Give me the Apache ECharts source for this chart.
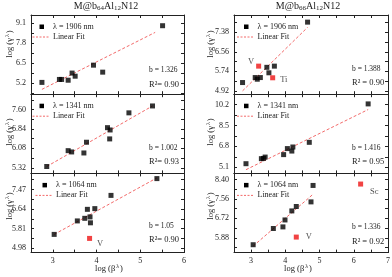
<!DOCTYPE html>
<html><head><meta charset="utf-8">
<script src="https://cdn.jsdelivr.net/npm/echarts@6/dist/echarts.min.js"></script>
<style>html,body{margin:0;padding:0;background:#fff}#c{width:392px;height:277px}</style>
</head><body><div id="c"></div><script>
// ---------- data ----------
const titles = ['M@b64Al12N12', 'M@b66Al12N12'];
const xTickLabelsLeft = ['3', '4', '5', '6'];
const xTickLabelsRight = ['3', '4', '5', '6', '7'];
const xRangeLeft = [2.5, 6];
const xRangeRight = [2.5, 7];

// b64, 1906 nm
const b64_1906_legend = 'λ = 1906 nm';
const b64_1906_x = [2.75, 3.15, 3.20, 3.35, 3.44, 3.51, 3.93, 4.14, 5.51];
const b64_1906_y = [5.26, 5.45, 5.45, 5.40, 5.86, 5.66, 6.37, 5.92, 8.91];
const b64_1906_fitX = [2.75, 5.34];
const b64_1906_fitY = [4.81, 8.48];
const b64_1906_yLabels = ['5.2', '6.5', '7.8', '9.1'];
const b64_1906_yRange = [4.5, 9.6];
const b64_1906_b = 'b = 1.326';
const b64_1906_r = 'R²= 0.90';

// b64, 1341 nm
const b64_1341_legend = 'λ = 1341 nm';
const b64_1341_x = [2.86, 3.35, 3.43, 3.71, 3.77, 4.25, 4.31, 4.30, 4.74, 5.28];
const b64_1341_y = [5.37, 5.99, 5.94, 5.90, 6.32, 6.89, 6.80, 6.45, 7.47, 7.74];
const b64_1341_fitX = [2.86, 5.28];
const b64_1341_fitY = [5.37, 7.74];
const b64_1341_yLabels = ['5.32', '6.08', '6.84', '7.60'];
const b64_1341_yRange = [5.1, 8.2];
const b64_1341_b = 'b = 1.002';
const b64_1341_r = 'R²= 0.93';

// b64, 1064 nm
const b64_1064_legend = 'λ = 1064 nm';
const b64_1064_x = [3.03, 3.56, 3.73, 3.79, 3.85, 3.86, 3.96, 4.33, 5.38];
const b64_1064_y = [5.57, 6.14, 6.25, 6.63, 6.31, 6.06, 6.66, 7.22, 7.93];
const b64_1064_redX = [3.84];
const b64_1064_redY = [5.40];
const b64_1064_redNames = ['V'];
const b64_1064_fitX = [3.03, 5.38];
const b64_1064_fitY = [5.57, 7.96];
const b64_1064_yLabels = ['4.98', '5.81', '6.64', '7.47'];
const b64_1064_yRange = [4.8, 8.15];
const b64_1064_b = 'b = 1.05';
const b64_1064_r = 'R²= 0.90';

// b66, 1906 nm
const b66_1906_legend = 'λ = 1906 nm';
const b66_1906_x = [2.75, 3.12, 3.18, 3.27, 3.46, 3.52, 3.68, 4.65];
const b66_1906_y = [5.27, 5.48, 5.41, 5.48, 5.91, 5.68, 5.96, 7.81];
const b66_1906_redX = [3.22, 3.63];
const b66_1906_redY = [5.96, 5.47];
const b66_1906_redNames = ['V', 'Ti'];
const b66_1906_fitX = [2.75, 4.65];
const b66_1906_fitY = [4.92, 7.59];
const b66_1906_yLabels = ['4.92', '5.74', '6.56', '7.38'];
const b66_1906_yRange = [4.78, 8.11];
const b66_1906_b = 'b = 1.388';
const b66_1906_r = 'R² = 0.90';

// b66, 1341 nm
const b66_1341_legend = 'λ = 1341 nm';
const b66_1341_x = [2.85, 3.30, 3.36, 3.41, 3.95, 4.06, 4.19, 4.22, 4.70, 6.42];
const b66_1341_y = [5.39, 5.80, 5.82, 5.93, 6.13, 6.62, 6.42, 6.75, 7.13, 10.26];
const b66_1341_fitX = [2.85, 6.42];
const b66_1341_fitY = [4.90, 9.80];
const b66_1341_yLabels = ['5.1', '6.8', '8.5', '10.2'];
const b66_1341_yRange = [4.6, 11.05];
const b66_1341_b = 'b = 1.416';
const b66_1341_r = 'R² = 0.95';

// b66, 1064 nm
const b66_1064_legend = 'λ = 1064 nm';
const b66_1064_x = [3.06, 3.65, 3.93, 3.99, 4.19, 4.32, 4.75, 4.81];
const b66_1064_y = [5.58, 6.28, 6.35, 6.65, 7.04, 7.23, 7.43, 8.14];
const b66_1064_redX = [4.32, 6.20];
const b66_1064_redY = [5.91, 8.20];
const b66_1064_redNames = ['V', 'Sc'];
const b66_1064_fitX = [3.06, 4.81];
const b66_1064_fitY = [5.52, 7.76];
const b66_1064_yLabels = ['5.88', '6.72', '7.56', '8.40'];
const b66_1064_yRange = [5.24, 8.66];
const b66_1064_b = 'b = 1.336';
const b66_1064_r = 'R² = 0.92';

// ---------- layout / style ----------
const FONT = "'Liberation Serif','Times New Roman',serif";
const INK = '#222';
const RED = '#ee1414';
const FIT = '#f36a6a';
const COLS = [
  {left: 31, width: 153, range: xRangeLeft, labels: xTickLabelsLeft},
  {left: 234, width: 154, range: xRangeRight, labels: xTickLabelsRight}
];
const ROW_TOP = 15, ROW_H = 79.2;
const RED_LABEL_STYLE = {
  '0-2-V': {position: 'right', distance: 5, offset: [0, 5]},
  '1-0-V': {position: 'left', distance: 2, offset: [0, -4]},
  '1-0-Ti': {position: 'right', distance: 5, offset: [0, 2]},
  '1-2-V': {position: 'right', distance: 7, offset: [0, 0]},
  '1-2-Sc': {position: 'right', distance: 7, offset: [0, 8]}
};

const panels = [
  {col:0,row:0,legend:b64_1906_legend,x:b64_1906_x,y:b64_1906_y,fitX:b64_1906_fitX,fitY:b64_1906_fitY,yLabels:b64_1906_yLabels,yRange:b64_1906_yRange,b:b64_1906_b,r:b64_1906_r},
  {col:0,row:1,legend:b64_1341_legend,x:b64_1341_x,y:b64_1341_y,fitX:b64_1341_fitX,fitY:b64_1341_fitY,yLabels:b64_1341_yLabels,yRange:b64_1341_yRange,b:b64_1341_b,r:b64_1341_r},
  {col:0,row:2,legend:b64_1064_legend,x:b64_1064_x,y:b64_1064_y,fitX:b64_1064_fitX,fitY:b64_1064_fitY,yLabels:b64_1064_yLabels,yRange:b64_1064_yRange,b:b64_1064_b,r:b64_1064_r,redX:b64_1064_redX,redY:b64_1064_redY,redNames:b64_1064_redNames},
  {col:1,row:0,legend:b66_1906_legend,x:b66_1906_x,y:b66_1906_y,fitX:b66_1906_fitX,fitY:b66_1906_fitY,yLabels:b66_1906_yLabels,yRange:b66_1906_yRange,b:b66_1906_b,r:b66_1906_r,redX:b66_1906_redX,redY:b66_1906_redY,redNames:b66_1906_redNames},
  {col:1,row:1,legend:b66_1341_legend,x:b66_1341_x,y:b66_1341_y,fitX:b66_1341_fitX,fitY:b66_1341_fitY,yLabels:b66_1341_yLabels,yRange:b66_1341_yRange,b:b66_1341_b,r:b66_1341_r},
  {col:1,row:2,legend:b66_1064_legend,x:b66_1064_x,y:b66_1064_y,fitX:b66_1064_fitX,fitY:b66_1064_fitY,yLabels:b66_1064_yLabels,yRange:b66_1064_yRange,b:b66_1064_b,r:b66_1064_r,redX:b66_1064_redX,redY:b66_1064_redY,redNames:b66_1064_redNames}
];

function zip(a, b) { return a.map((v, i) => [v, b[i]]); }
function withHalves(vals, lo, hi) {
  const out = vals.slice();
  const step = vals[1] - vals[0];
  const cands = [vals[0] - step / 2].concat(vals.map(v => v + step / 2));
  cands.forEach(v => { if (v > lo + 1e-9 && v < hi - 1e-9) out.push(v); });
  return out.filter(v => v > lo + 1e-9 && v < hi - 1e-9);
}
function fmtFrom(labels) {
  return v => { const s = labels.find(l => Math.abs(parseFloat(l) - v) < 1e-6); return s === undefined ? '' : s; };
}

const grids = [], xAxes = [], yAxes = [], series = [], graphics = [];
const axisLine = {show: true, onZero: false, lineStyle: {color: INK, width: 1}};
const labelStyle = {fontSize: 8, color: INK, fontFamily: FONT};

panels.forEach((p, i) => {
  const c = COLS[p.col];
  const top = ROW_TOP + p.row * ROW_H;
  grids.push({left: c.left, top: top, width: c.width, height: ROW_H, containLabel: false, outerBoundsMode: 'none'});
  const xVals = c.labels.map(parseFloat);
  const xTicks = withHalves(xVals, c.range[0], c.range[1]);
  const yVals = p.yLabels.map(parseFloat);
  const yTicks = withHalves(yVals, p.yRange[0], p.yRange[1]);
  xAxes[i] = {type: 'value', gridIndex: i, min: c.range[0], max: c.range[1], position: 'bottom',
    axisLine, splitLine: {show: false},
    axisTick: {show: true, inside: true, length: 3, customValues: xTicks, lineStyle: {color: INK}},
    axisLabel: Object.assign({show: p.row === 2, customValues: xVals, formatter: fmtFrom(c.labels), margin: 4}, labelStyle)};
  xAxes[i + 6] = {type: 'value', gridIndex: i, min: c.range[0], max: c.range[1], position: 'top',
    axisLine, splitLine: {show: false},
    axisTick: {show: true, inside: true, length: 3, customValues: xTicks, lineStyle: {color: INK}},
    axisLabel: {show: false}};
  yAxes[i] = {type: 'value', gridIndex: i, min: p.yRange[0], max: p.yRange[1], position: 'left',
    axisLine, splitLine: {show: false},
    axisTick: {show: true, inside: true, length: 3, customValues: yTicks, lineStyle: {color: INK}},
    axisLabel: Object.assign({show: true, customValues: yVals, formatter: fmtFrom(p.yLabels), margin: 5}, labelStyle)};
  yAxes[i + 6] = {type: 'value', gridIndex: i, min: p.yRange[0], max: p.yRange[1], position: 'right',
    axisLine, splitLine: {show: false},
    axisTick: {show: true, inside: true, length: 3, customValues: yTicks, lineStyle: {color: INK}},
    axisLabel: {show: false}};

  series.push({type: 'line', name: 'Linear Fit', xAxisIndex: i, yAxisIndex: i, data: zip(p.fitX, p.fitY),
    symbol: 'none', silent: true, lineStyle: {color: FIT, width: 1, type: [3, 2]}, z: 2});
  series.push({type: 'scatter', name: p.legend, xAxisIndex: i, yAxisIndex: i, data: zip(p.x, p.y),
    symbol: 'rect', symbolSize: 5, itemStyle: {color: '#000'}, z: 3});
  if (p.redX) {
    series.push({type: 'scatter', name: 'outlier', xAxisIndex: i, yAxisIndex: i,
      data: p.redX.map((v, k) => {
        const st = RED_LABEL_STYLE[p.col + '-' + p.row + '-' + p.redNames[k]] || {position: 'right'};
        return {value: [v, p.redY[k]], name: p.redNames[k],
          label: Object.assign({show: true, formatter: '{b}', fontSize: 8.5, color: INK, fontFamily: FONT}, st)};
      }),
      symbol: 'rect', symbolSize: 5, itemStyle: {color: RED}, z: 4});
  }

  const lx = c.left + (p.col === 1 ? 1.5 : (p.row === 2 ? 3 : 0));
  graphics.push({type: 'rect', shape: {x: lx + 8.5, y: top + 9.5, width: 4.5, height: 4.5}, style: {fill: '#000'}, silent: true});
  graphics.push({type: 'text', x: lx + 22, y: top + 12, style: {text: p.legend, fontSize: 8, fontFamily: FONT, fill: INK, align: 'left', verticalAlign: 'middle'}, silent: true});
  graphics.push({type: 'line', shape: {x1: lx + 1.5, y1: top + 22, x2: lx + 19, y2: top + 22}, style: {stroke: FIT, lineWidth: 1, lineDash: [2, 1.5]}, silent: true});
  graphics.push({type: 'text', x: lx + 22, y: top + 22, style: {text: 'Linear Fit', fontSize: 8, fontFamily: FONT, fill: INK, align: 'left', verticalAlign: 'middle'}, silent: true});
  const dy = p.col === 0 ? [1.5, 0, -1.5][p.row] : 0;
  graphics.push({type: 'text', x: c.left + 118, y: top + 54 + dy, style: {text: p.b, fontSize: 7.5, fontFamily: FONT, fill: INK, align: 'left', verticalAlign: 'middle'}, silent: true});
  graphics.push({type: 'text', x: c.left + 118, y: top + 68 + dy, style: {text: p.r, fontSize: 8.5, fontFamily: FONT, fill: INK, align: 'left', verticalAlign: 'middle'}, silent: true});
});

// axis names with superscript λ (raised via bottom padding)
const nameRich = {
  a: {fontSize: 8.5, fontFamily: FONT, fill: INK, color: INK},
  s: {fontSize: 6, fontFamily: FONT, fill: INK, color: INK, padding: [0, 1, 6, 1]}
};
const yNameCenters = [44, 132, 206];
[10, 211].forEach(x => {
  yNameCenters.forEach(y => {
    graphics.push({type: 'text', x: x, y: y, rotation: Math.PI / 2,
      style: {text: '{a|log (γ}{s|λ}{a|)}', rich: nameRich, align: 'center', verticalAlign: 'middle', fill: INK}, silent: true});
  });
});
[[109, 269], [298, 269]].forEach(([x, y]) => {
  graphics.push({type: 'text', x: x, y: y,
    style: {text: '{a|log (β}{s|λ}{a|)}', rich: nameRich, align: 'center', verticalAlign: 'middle', fill: INK}, silent: true});
});
// titles with subscripts (lowered via top padding)
const titleRich = {
  n: {fontSize: 10, fontFamily: FONT, fill: INK, color: INK},
  s: {fontSize: 7, fontFamily: FONT, fill: INK, color: INK, padding: [5, 0, 0, 0]}
};
function titleText(t) {
  const m = t.match(/^(M@b)(\d+)(Al)(\d+)(N12)$/);
  return '{n|' + m[1] + '}{s|' + m[2] + '}{n|' + m[3] + '}{s|' + m[4] + '}{n|' + m[5] + '}';
}
[[106, 6], [308, 6]].forEach(([x, y], k) => {
  graphics.push({type: 'text', x: x, y: y, style: {text: titleText(titles[k]), rich: titleRich, align: 'center', verticalAlign: 'middle', fill: INK}, silent: true});
});

const chart = echarts.init(document.getElementById('c'), null, {renderer: 'canvas'});
chart.setOption({
  animation: false,
  backgroundColor: '#fff',
  grid: grids,
  xAxis: xAxes,
  yAxis: yAxes,
  series: series,
  graphic: {elements: graphics}
});
</script></body></html>
